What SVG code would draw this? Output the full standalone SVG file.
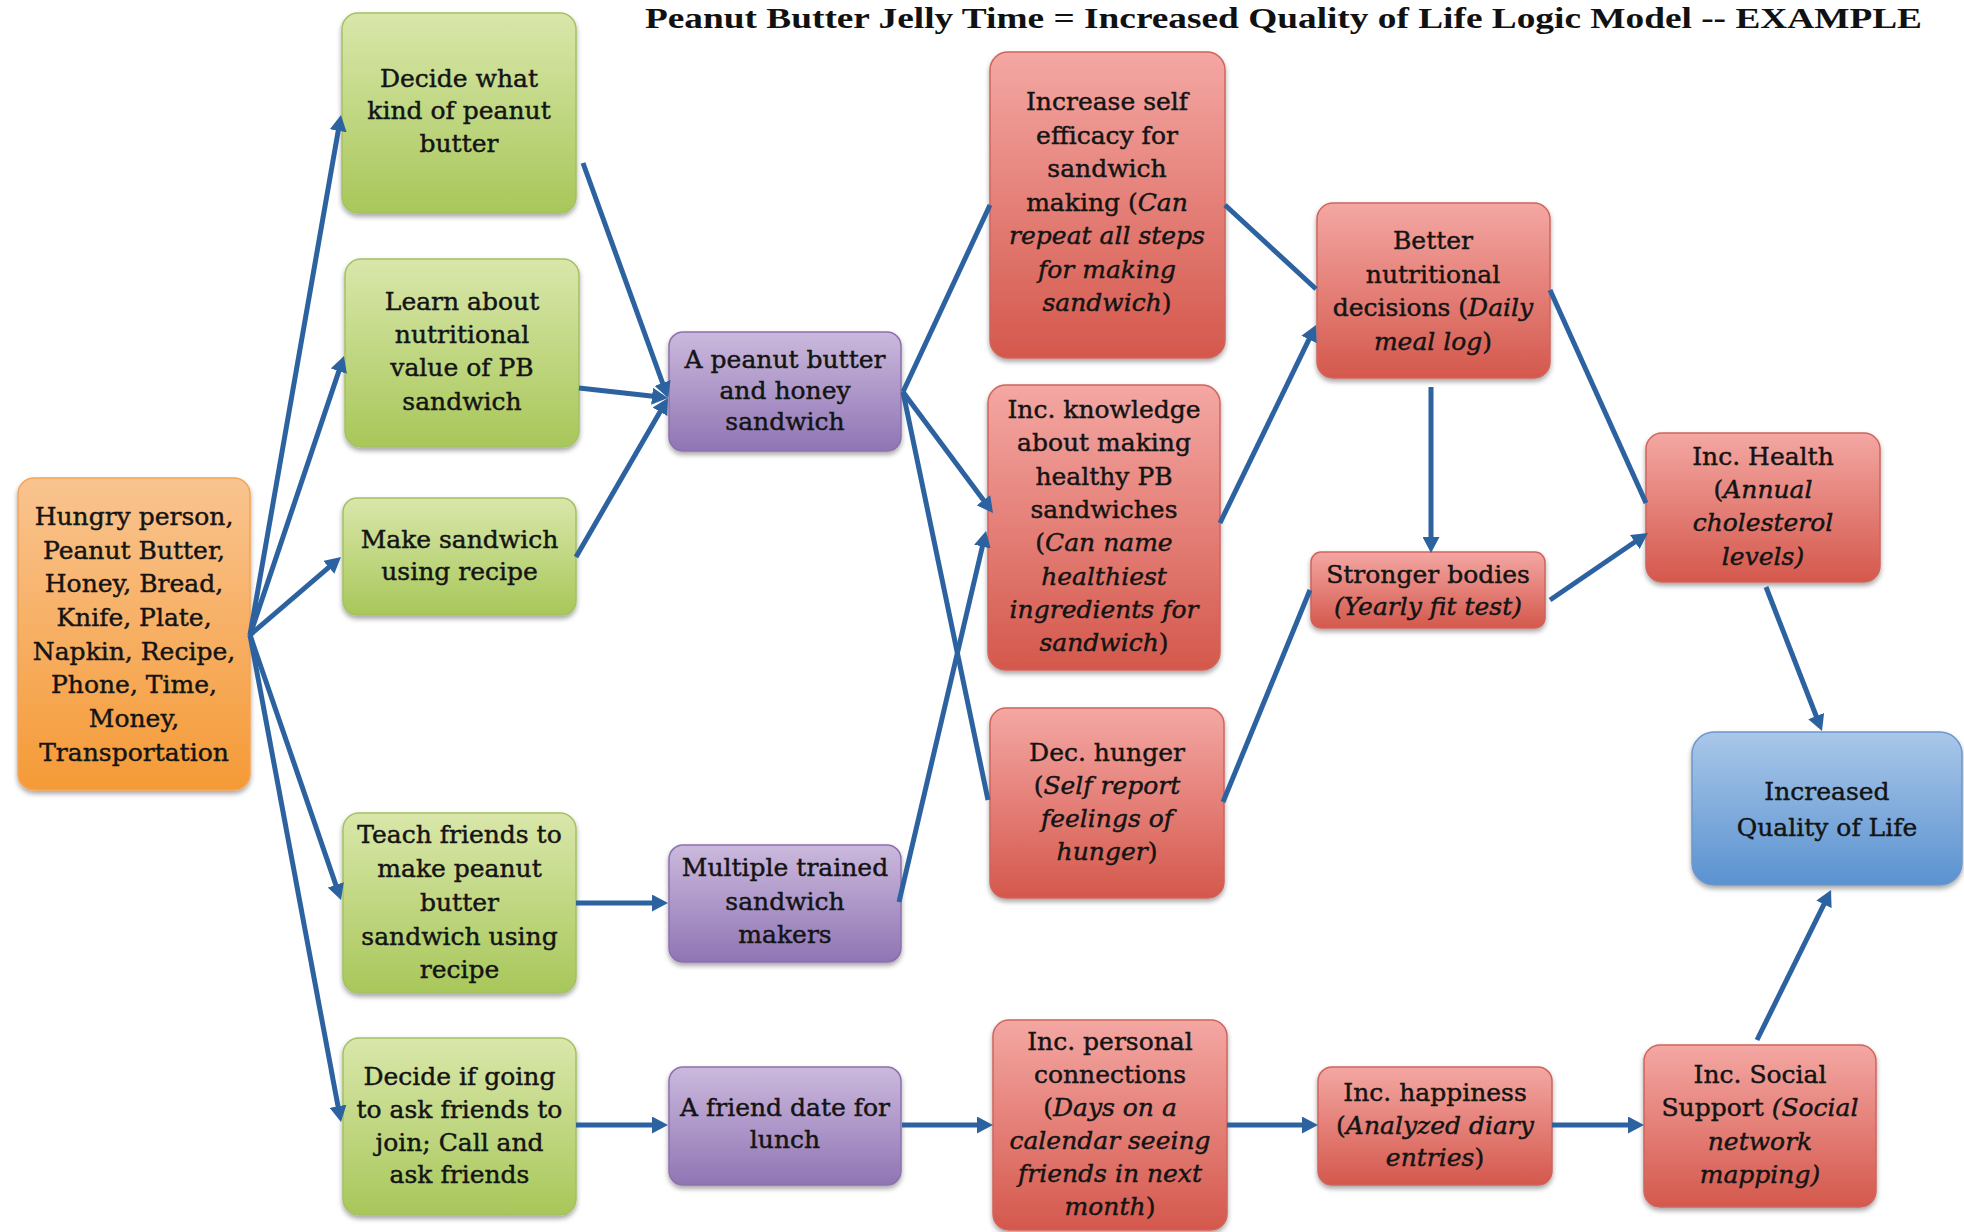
<svg xmlns="http://www.w3.org/2000/svg" width="1964" height="1232" viewBox="0 0 1964 1232">
<defs>
<linearGradient id="gGreen" x1="0" y1="0" x2="0" y2="1"><stop offset="0" stop-color="#d9e7aa"/><stop offset="1" stop-color="#a8c75a"/></linearGradient>
<linearGradient id="gOrange" x1="0" y1="0" x2="0" y2="1"><stop offset="0" stop-color="#f9c490"/><stop offset="1" stop-color="#f59a36"/></linearGradient>
<linearGradient id="gPurple" x1="0" y1="0" x2="0" y2="1"><stop offset="0" stop-color="#cbb9dd"/><stop offset="1" stop-color="#9075b4"/></linearGradient>
<linearGradient id="gRed" x1="0" y1="0" x2="0" y2="1"><stop offset="0" stop-color="#f4a7a3"/><stop offset="1" stop-color="#d4584c"/></linearGradient>
<linearGradient id="gBlue" x1="0" y1="0" x2="0" y2="1"><stop offset="0" stop-color="#a9c7e9"/><stop offset="1" stop-color="#5a92d0"/></linearGradient>
<filter id="shadow" x="-10%" y="-10%" width="120%" height="125%"><feDropShadow dx="0" dy="3" stdDeviation="2.5" flood-color="#000" flood-opacity="0.35"/></filter>
<marker id="arrow" markerUnits="userSpaceOnUse" markerWidth="16" markerHeight="17" viewBox="0 0 16 17" refX="8" refY="8.5" orient="auto"><path d="M0,0 L16,8.5 L0,17 Z" fill="#2c62a0"/></marker>
<style>
.box{filter:url(#shadow);stroke-width:1.5}
.green{fill:url(#gGreen);stroke:#a4c163}
.orange{fill:url(#gOrange);stroke:#f5a455}
.purple{fill:url(#gPurple);stroke:#8c70ae}
.red{fill:url(#gRed);stroke:#d0645c}
.blue{fill:url(#gBlue);stroke:#6b98cc}
.t{font-family:"DejaVu Serif","Liberation Serif",serif;font-size:25px;text-anchor:middle;fill:#141414;stroke:#141414;stroke-width:0.45}
.i{font-style:italic}
.title{font-family:"Liberation Serif",serif;font-size:30px;font-weight:bold;fill:#111}
.c{fill:none;stroke:#2c62a0;stroke-width:5}
.a{marker-end:url(#arrow)}
</style>
</defs>
<rect width="1964" height="1232" fill="#ffffff"/>
<text class="title" x="645" y="28" textLength="1277" lengthAdjust="spacingAndGlyphs">Peanut Butter Jelly Time = Increased Quality of Life Logic Model -- EXAMPLE</text>

<g id="n-inputs"><rect class="box orange" x="18" y="478" width="232" height="312" rx="16"/>
<text class="t"><tspan x="134" y="525">Hungry person,</tspan><tspan x="134" y="559">Peanut Butter,</tspan><tspan x="134" y="592">Honey, Bread,</tspan><tspan x="134" y="626">Knife, Plate,</tspan><tspan x="134" y="660">Napkin, Recipe,</tspan><tspan x="134" y="693">Phone, Time,</tspan><tspan x="134" y="727">Money,</tspan><tspan x="134" y="761">Transportation</tspan></text></g>

<g id="n-decide-pb"><rect class="box green" x="342" y="13" width="234" height="200" rx="16"/>
<text class="t"><tspan x="459" y="87">Decide what</tspan><tspan x="459" y="119">kind of peanut</tspan><tspan x="459" y="152">butter</tspan></text></g>

<g id="n-learn"><rect class="box green" x="345" y="259" width="234" height="188" rx="16"/>
<text class="t"><tspan x="462" y="310">Learn about</tspan><tspan x="462" y="343">nutritional</tspan><tspan x="462" y="376">value of PB</tspan><tspan x="462" y="410">sandwich</tspan></text></g>

<g id="n-make"><rect class="box green" x="343" y="498" width="233" height="117" rx="14"/>
<text class="t"><tspan x="459.5" y="548">Make sandwich</tspan><tspan x="459.5" y="580">using recipe</tspan></text></g>

<g id="n-teach"><rect class="box green" x="343" y="813" width="233" height="180" rx="16"/>
<text class="t"><tspan x="459.5" y="843">Teach friends to</tspan><tspan x="459.5" y="877">make peanut</tspan><tspan x="459.5" y="911">butter</tspan><tspan x="459.5" y="945">sandwich using</tspan><tspan x="459.5" y="978">recipe</tspan></text></g>

<g id="n-decide-friends"><rect class="box green" x="343" y="1038" width="233" height="177" rx="16"/>
<text class="t"><tspan x="459.5" y="1085">Decide if going</tspan><tspan x="459.5" y="1118">to ask friends to</tspan><tspan x="459.5" y="1151">join; Call and</tspan><tspan x="459.5" y="1183">ask friends</tspan></text></g>

<g id="n-pbh-sandwich"><rect class="box purple" x="669" y="332" width="232" height="119" rx="14"/>
<text class="t"><tspan x="785" y="368">A peanut butter</tspan><tspan x="785" y="399">and honey</tspan><tspan x="785" y="430">sandwich</tspan></text></g>

<g id="n-trained"><rect class="box purple" x="669" y="845" width="232" height="117" rx="14"/>
<text class="t"><tspan x="785" y="876">Multiple trained</tspan><tspan x="785" y="910">sandwich</tspan><tspan x="785" y="943">makers</tspan></text></g>

<g id="n-friend-date"><rect class="box purple" x="669" y="1067" width="232" height="118" rx="14"/>
<text class="t"><tspan x="785" y="1116">A friend date for</tspan><tspan x="785" y="1148">lunch</tspan></text></g>

<g id="n-self-efficacy"><rect class="box red" x="990" y="52" width="235" height="306" rx="18"/>
<text class="t"><tspan x="1107" y="110">Increase self</tspan><tspan x="1107" y="143.5">efficacy for</tspan><tspan x="1107" y="177">sandwich</tspan><tspan x="1107" y="210.5">making (<tspan class="i">Can</tspan></tspan><tspan x="1107" y="244" class="i">repeat all steps</tspan><tspan x="1107" y="277.5" class="i">for making</tspan><tspan x="1107" y="311"><tspan class="i">sandwich</tspan>)</tspan></text></g>

<g id="n-knowledge"><rect class="box red" x="988" y="385" width="232" height="285" rx="18"/>
<text class="t"><tspan x="1104" y="418">Inc. knowledge</tspan><tspan x="1104" y="451">about making</tspan><tspan x="1104" y="485">healthy PB</tspan><tspan x="1104" y="518">sandwiches</tspan><tspan x="1104" y="551">(<tspan class="i">Can name</tspan></tspan><tspan x="1104" y="585" class="i">healthiest</tspan><tspan x="1104" y="618" class="i">ingredients for</tspan><tspan x="1104" y="651"><tspan class="i">sandwich</tspan>)</tspan></text></g>

<g id="n-hunger"><rect class="box red" x="990" y="708" width="234" height="190" rx="16"/>
<text class="t"><tspan x="1107" y="761">Dec. hunger</tspan><tspan x="1107" y="794">(<tspan class="i">Self report</tspan></tspan><tspan x="1107" y="827" class="i">feelings of</tspan><tspan x="1107" y="860"><tspan class="i">hunger</tspan>)</tspan></text></g>

<g id="n-connections"><rect class="box red" x="993" y="1020" width="234" height="210" rx="16"/>
<text class="t"><tspan x="1110" y="1050">Inc. personal</tspan><tspan x="1110" y="1083">connections</tspan><tspan x="1110" y="1116">(<tspan class="i">Days on a</tspan></tspan><tspan x="1110" y="1149" class="i">calendar seeing</tspan><tspan x="1110" y="1182" class="i">friends in next</tspan><tspan x="1110" y="1215"><tspan class="i">month</tspan>)</tspan></text></g>

<g id="n-nutrition"><rect class="box red" x="1317" y="203" width="233" height="175" rx="16"/>
<text class="t"><tspan x="1433" y="249">Better</tspan><tspan x="1433" y="282.5">nutritional</tspan><tspan x="1433" y="316">decisions (<tspan class="i">Daily</tspan></tspan><tspan x="1433" y="349.5"><tspan class="i">meal log</tspan>)</tspan></text></g>

<g id="n-stronger"><rect class="box red" x="1311" y="552" width="234" height="76" rx="10"/>
<text class="t"><tspan x="1428" y="583">Stronger bodies</tspan><tspan x="1428" y="615" class="i">(Yearly fit test)</tspan></text></g>

<g id="n-happiness"><rect class="box red" x="1318" y="1067" width="234" height="118" rx="14"/>
<text class="t"><tspan x="1435" y="1101">Inc. happiness</tspan><tspan x="1435" y="1134">(<tspan class="i">Analyzed diary</tspan></tspan><tspan x="1435" y="1166"><tspan class="i">entries</tspan>)</tspan></text></g>

<g id="n-health"><rect class="box red" x="1646" y="433" width="234" height="149" rx="16"/>
<text class="t"><tspan x="1763" y="465">Inc. Health</tspan><tspan x="1763" y="498">(<tspan class="i">Annual</tspan></tspan><tspan x="1763" y="531" class="i">cholesterol</tspan><tspan x="1763" y="565" class="i">levels)</tspan></text></g>

<g id="n-qol"><rect class="box blue" x="1692" y="732" width="270" height="153" rx="22"/>
<text class="t"><tspan x="1827" y="800">Increased</tspan><tspan x="1827" y="836">Quality of Life</tspan></text></g>

<g id="n-social"><rect class="box red" x="1644" y="1045" width="232" height="162" rx="16"/>
<text class="t"><tspan x="1760" y="1083">Inc. Social</tspan><tspan x="1760" y="1116">Support <tspan class="i">(Social</tspan></tspan><tspan x="1760" y="1150" class="i">network</tspan><tspan x="1760" y="1183" class="i">mapping)</tspan></text></g>

<g id="connectors">
<path class="c a" d="M250,635 L339.6,122.9"/>
<path class="c a" d="M250,635 L341.4,363.6"/>
<path class="c a" d="M250,635 L334.9,562.2"/>
<path class="c a" d="M250,635 L338.4,892.4"/>
<path class="c a" d="M250,635 L339.5,1114.1"/>
<path class="c a" d="M583,163 L665.3,390.5"/>
<path class="c a" d="M579,388 L660,397.1"/>
<path class="c a" d="M576,557 L664,404.9"/>
<path class="c a" d="M576,903 L660,903"/>
<path class="c a" d="M576,1125 L660,1125"/>
<path class="c" d="M903,392 L990,205"/>
<path class="c a" d="M903,392 L988.2,506.6"/>
<path class="c" d="M903,392 L988,800"/>
<path class="c a" d="M899,902 L984.2,538.8"/>
<path class="c a" d="M902,1125 L985,1125"/>
<path class="c" d="M1225,205 L1316,289"/>
<path class="c a" d="M1220,523 L1312.5,332.2"/>
<path class="c" d="M1223,802 L1310,590"/>
<path class="c a" d="M1431,387 L1431,545"/>
<path class="c" d="M1550,290 L1646,503"/>
<path class="c a" d="M1550,600 L1641.4,537.5"/>
<path class="c a" d="M1766,587 L1819.1,723.5"/>
<path class="c a" d="M1227,1125 L1310,1125"/>
<path class="c a" d="M1552,1125 L1636,1125"/>
<path class="c a" d="M1757,1040 L1827.5,897.2"/>
</g>
</svg>
